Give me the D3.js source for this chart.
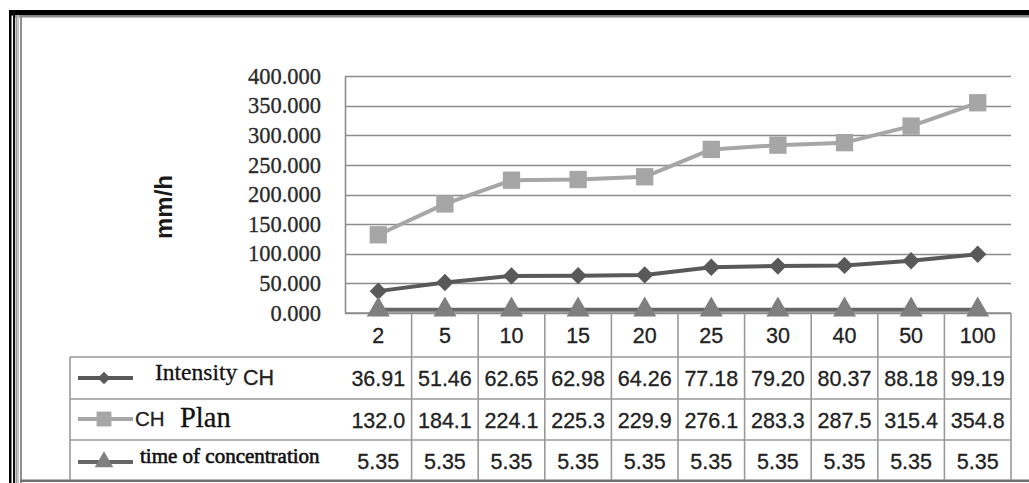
<!DOCTYPE html>
<html>
<head>
<meta charset="utf-8">
<script src="https://cdn.jsdelivr.net/npm/d3@7"></script>
<style>
  html, body { margin: 0; padding: 0; background: #fff; }
  svg { display: block; }
</style>
</head>
<body>
<svg id="chart" width="1029" height="483"></svg>
<script>
// Return periods (years) and series values
const categories = ["2", "5", "10", "15", "20", "25", "30", "40", "50", "100"];
const intensityCH = [36.91, 51.46, 62.65, 62.98, 64.26, 77.18, 79.20, 80.37, 88.18, 99.19];
const planCH = [132.0, 184.1, 224.1, 225.3, 229.9, 276.1, 283.3, 287.5, 315.4, 354.8];
const timeOfConcentration = [5.35, 5.35, 5.35, 5.35, 5.35, 5.35, 5.35, 5.35, 5.35, 5.35];
const yTicks = [0, 50, 100, 150, 200, 250, 300, 350, 400];

const svg = d3.select("#chart");

// ---- page frame ----
const frame = svg.append("g");
frame.append("rect").attr("x", 9).attr("y", 10).attr("width", 1020).attr("height", 5.5).attr("fill", "#000");
frame.append("rect").attr("x", 15).attr("y", 15.5).attr("width", 1014).attr("height", 2).attr("fill", "#8a8a8a");
frame.append("rect").attr("x", 9).attr("y", 10).attr("width", 2.5).attr("height", 473).attr("fill", "#000");
frame.append("rect").attr("x", 13).attr("y", 10).attr("width", 2).attr("height", 473).attr("fill", "#111");
frame.append("rect").attr("x", 15.5).attr("y", 15).attr("width", 2).attr("height", 468).attr("fill", "#9a9a9a");
frame.append("rect").attr("x", 17.5).attr("y", 15).attr("width", 1.5).attr("height", 468).attr("fill", "#c8c8c8");
frame.append("rect").attr("x", 20).attr("y", 15).attr("width", 2).attr("height", 468).attr("fill", "#8f8f8f");
frame.append("rect").attr("x", 20).attr("y", 479.5).attr("width", 1009).attr("height", 2.5).attr("fill", "#707070");

// ---- scales ----
const plotLeft = 345, plotRight = 1011, plotTop = 76, plotBottom = 313;
const x = d3.scaleBand().domain(categories).range([plotLeft, plotRight]);
const y = d3.scaleLinear().domain([0, 400]).range([plotBottom, plotTop]);
const cx = c => x(c) + x.bandwidth() / 2;

const gridColor = "#8c8c8c";

// ---- gridlines ----
svg.append("g").selectAll("line").data(yTicks).join("line")
  .attr("x1", plotLeft).attr("x2", plotRight)
  .attr("y1", d => Math.round(y(d)) + 0.5).attr("y2", d => Math.round(y(d)) + 0.5)
  .attr("stroke", gridColor).attr("stroke-width", 1.6);

// ---- y axis ----
const yAxis = d3.axisLeft(y).tickValues(yTicks).tickFormat(d3.format(".3f")).tickSize(0).tickPadding(24);
const yg = svg.append("g").attr("transform", `translate(${plotLeft},0)`).call(yAxis);
yg.select(".domain").attr("stroke", gridColor).attr("stroke-width", 1.6);
yg.selectAll("text")
  .attr("font-family", "'Liberation Serif', 'Times New Roman', serif")
  .attr("font-size", 22.5).attr("fill", "#2a2a2a")
  .attr("stroke", "#2a2a2a").attr("stroke-width", 0.3);

// axis title
svg.append("text")
  .attr("transform", "translate(172,207) rotate(-90)")
  .attr("text-anchor", "middle")
  .attr("font-family", "'Liberation Sans', Arial, sans-serif")
  .attr("font-weight", "bold").attr("font-size", 24).attr("fill", "#1a1a1a")
  .text("mm/h");

// ---- data table ----
const tableLeft = 70;
const rowEdges = [313, 357, 399, 440, 480];
const table = svg.append("g");
const tableStroke = "#999";
table.append("line").attr("x1", plotLeft).attr("x2", plotRight).attr("y1", rowEdges[0]).attr("y2", rowEdges[0])
  .attr("stroke", gridColor).attr("stroke-width", 1.6);
[rowEdges[1], rowEdges[2], rowEdges[3]].forEach(v => {
  table.append("line").attr("x1", tableLeft).attr("x2", plotRight).attr("y1", v).attr("y2", v)
    .attr("stroke", tableStroke).attr("stroke-width", 1.6);
});
table.append("line").attr("x1", tableLeft).attr("x2", tableLeft).attr("y1", rowEdges[1]).attr("y2", rowEdges[4])
  .attr("stroke", tableStroke).attr("stroke-width", 1.6);
table.selectAll("line.col").data(categories.slice(1)).join("line").attr("class", "col")
  .attr("x1", d => x(d)).attr("x2", d => x(d))
  .attr("y1", rowEdges[0]).attr("y2", rowEdges[4])
  .attr("stroke", tableStroke).attr("stroke-width", 1.6);
table.append("line").attr("x1", plotRight).attr("x2", plotRight).attr("y1", rowEdges[0]).attr("y2", rowEdges[4])
  .attr("stroke", tableStroke).attr("stroke-width", 1.6);

const numFont = "'Liberation Sans', Arial, sans-serif";
function numText(sel) {
  sel.attr("text-anchor", "middle").attr("font-family", numFont).attr("font-size", 21.5)
    .attr("fill", "#222").attr("stroke", "#222").attr("stroke-width", 0.3);
}
// header row
table.selectAll("text.hdr").data(categories).join("text").attr("class", "hdr")
  .attr("x", d => cx(d)).attr("y", 343).call(numText)
  .text(d => d);

const rows = [
  { values: intensityCH, fmt: d3.format(".2f"), base: 386 },
  { values: planCH, fmt: d3.format(".1f"), base: 428 },
  { values: timeOfConcentration, fmt: d3.format(".2f"), base: 469 }
];
rows.forEach((r, i) => {
  table.selectAll(`text.r${i}`).data(r.values).join("text").attr("class", `r${i}`)
    .attr("x", (d, j) => cx(categories[j])).attr("y", r.base).call(numText)
    .text(d => r.fmt(d));
});

// ---- series ----
const colIntensity = "#595959", colPlan = "#a6a6a6", colTocLine = "#666", colToc = "#7f7f7f";
const line = d3.line().x((d, i) => cx(categories[i])).y(d => y(d));

// diamond drawn as a square turned 45°
const diamond = s => d3.symbol().type(d3.symbolSquare).size(s)();
const square = d3.symbol().type(d3.symbolSquare).size(300);
const triangle = s => d3.symbol().type(d3.symbolTriangle).size(s)();

function series(values, lineColor, markerColor, shape, rot) {
  const g = svg.append("g");
  g.append("path").attr("d", line(values)).attr("fill", "none")
    .attr("stroke", lineColor).attr("stroke-width", 4).attr("stroke-linejoin", "round");
  g.selectAll("path.m").data(values).join("path").attr("class", "m")
    .attr("transform", (d, i) => `translate(${cx(categories[i])},${y(d)}) rotate(${rot})`)
    .attr("d", shape).attr("fill", markerColor);
}
series(planCH, colPlan, colPlan, square, 0);
series(intensityCH, colIntensity, colIntensity, diamond(150), 45);
series(timeOfConcentration, colTocLine, colToc, triangle(230), 0);

// ---- legend keys in the table ----
const keys = [
  { y: 378, color: colIntensity, mColor: colIntensity, shape: diamond(80), rot: 45 },
  { y: 419, color: colPlan, mColor: colPlan, shape: d3.symbol().type(d3.symbolSquare).size(220)(), rot: 0 },
  { y: 462, color: colTocLine, mColor: colToc, shape: triangle(150), rot: 0 }
];
keys.forEach(k => {
  table.append("line").attr("x1", 78).attr("x2", 133).attr("y1", k.y).attr("y2", k.y)
    .attr("stroke", k.color).attr("stroke-width", 4);
  table.append("path").attr("transform", `translate(104,${k.y}) rotate(${k.rot})`).attr("d", k.shape).attr("fill", k.mColor);
});

const serif = "'Liberation Serif', 'Times New Roman', serif";
const sans = "'Liberation Sans', Arial, sans-serif";
table.append("text").attr("x", 155).attr("y", 380).attr("font-family", serif).attr("font-size", 23.5)
  .attr("fill", "#111").attr("stroke", "#111").attr("stroke-width", 0.3).text("Intensity");
table.append("text").attr("x", 243).attr("y", 385).attr("font-family", sans).attr("font-size", 21.5)
  .attr("fill", "#222").attr("stroke", "#222").attr("stroke-width", 0.3).text("CH");
table.append("text").attr("x", 135).attr("y", 426).attr("font-family", sans).attr("font-size", 20.5)
  .attr("fill", "#222").attr("stroke", "#222").attr("stroke-width", 0.3).text("CH");
table.append("text").attr("x", 180).attr("y", 427).attr("font-family", serif).attr("font-size", 28.5)
  .attr("fill", "#111").attr("stroke", "#111").attr("stroke-width", 0.3).text("Plan");
table.append("text").attr("x", 140).attr("y", 463).attr("font-family", serif).attr("font-size", 21)
  .attr("fill", "#111").attr("stroke", "#111").attr("stroke-width", 0.6).text("time of concentration");
</script>
</body>
</html>
